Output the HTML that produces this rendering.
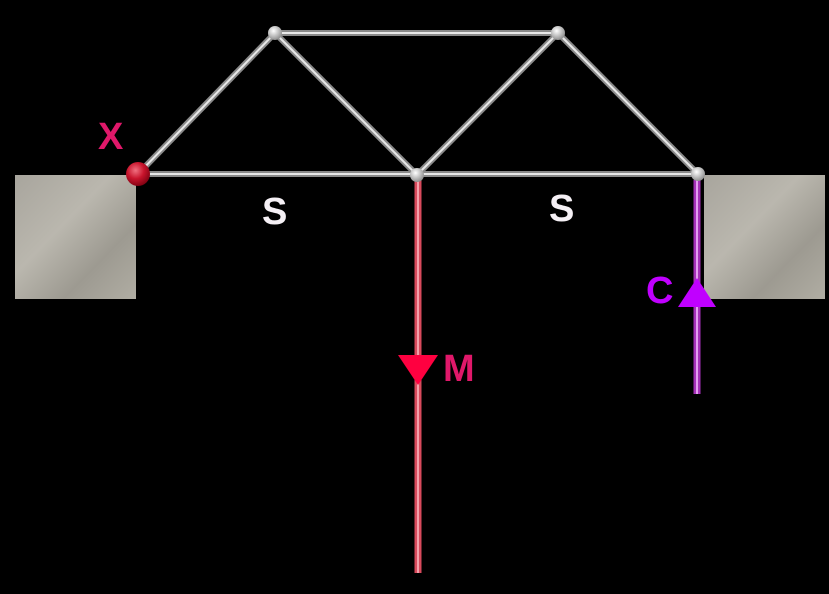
<!DOCTYPE html>
<html><head><style>
html,body{margin:0;padding:0;background:#000;width:829px;height:594px;overflow:hidden}
</style></head><body>
<svg width="829" height="594" xmlns="http://www.w3.org/2000/svg" style="display:block">
<defs>
<linearGradient id="conc" x1="0" y1="0" x2="1" y2="1">
<stop offset="0" stop-color="#a8a59d"/><stop offset="0.4" stop-color="#bab7ae"/><stop offset="0.7" stop-color="#9d9a91"/><stop offset="1" stop-color="#b0ada3"/></linearGradient>
<radialGradient id="ball" cx="0.4" cy="0.35" r="0.7"><stop offset="0" stop-color="#f07080"/><stop offset="0.5" stop-color="#c8142c"/><stop offset="1" stop-color="#7a0010"/></radialGradient>
<radialGradient id="node" cx="0.4" cy="0.35" r="0.7"><stop offset="0" stop-color="#ffffff"/><stop offset="1" stop-color="#888"/></radialGradient>
</defs>
<rect x="15" y="175" width="121" height="124" fill="url(#conc)"/>
<rect x="704" y="175" width="121" height="124" fill="url(#conc)"/>
<g stroke-linecap="round">
<g stroke="#8a8a8a" stroke-width="6">
<line x1="138" y1="174" x2="698" y2="174"/>
<line x1="138" y1="174" x2="275" y2="33"/>
<line x1="275" y1="33" x2="558" y2="33"/>
<line x1="275" y1="33" x2="417" y2="175"/>
<line x1="417" y1="175" x2="558" y2="33"/>
<line x1="558" y1="33" x2="698" y2="174"/>
</g>
<g stroke="#e8e8e8" stroke-width="2">
<line x1="138" y1="174" x2="698" y2="174"/>
<line x1="138" y1="174" x2="275" y2="33"/>
<line x1="275" y1="33" x2="558" y2="33"/>
<line x1="275" y1="33" x2="417" y2="175"/>
<line x1="417" y1="175" x2="558" y2="33"/>
<line x1="558" y1="33" x2="698" y2="174"/>
</g>
</g>
<line x1="418" y1="178" x2="418" y2="573" stroke="#d84a5c" stroke-width="7"/>
<line x1="418" y1="178" x2="418" y2="573" stroke="#f3a0ab" stroke-width="2"/>
<line x1="697" y1="180" x2="697" y2="394" stroke="#a530b8" stroke-width="7"/>
<line x1="697" y1="180" x2="697" y2="394" stroke="#e49ef0" stroke-width="2"/>
<polygon points="398,355 438,355 418,385" fill="#ff0040"/>
<polygon points="678,307 716,307 697,278" fill="#c000ff"/>
<circle cx="138" cy="174" r="12" fill="url(#ball)"/>
<circle cx="275" cy="33" r="7" fill="url(#node)"/>
<circle cx="558" cy="33" r="7" fill="url(#node)"/>
<circle cx="417" cy="175" r="7" fill="url(#node)"/>
<circle cx="698" cy="174" r="7" fill="url(#node)"/>
<g font-family="Liberation Sans, sans-serif" font-weight="bold" font-size="38">
<text x="98" y="149" fill="#e0186a">X</text>
<text x="262" y="224" fill="#f5f0f5">S</text>
<text x="549" y="221" fill="#f5f0f5">S</text>
<text x="443" y="381" fill="#e0186a">M</text>
<text x="646" y="303" fill="#c000ff">C</text>
</g>
</svg>
</body></html>
